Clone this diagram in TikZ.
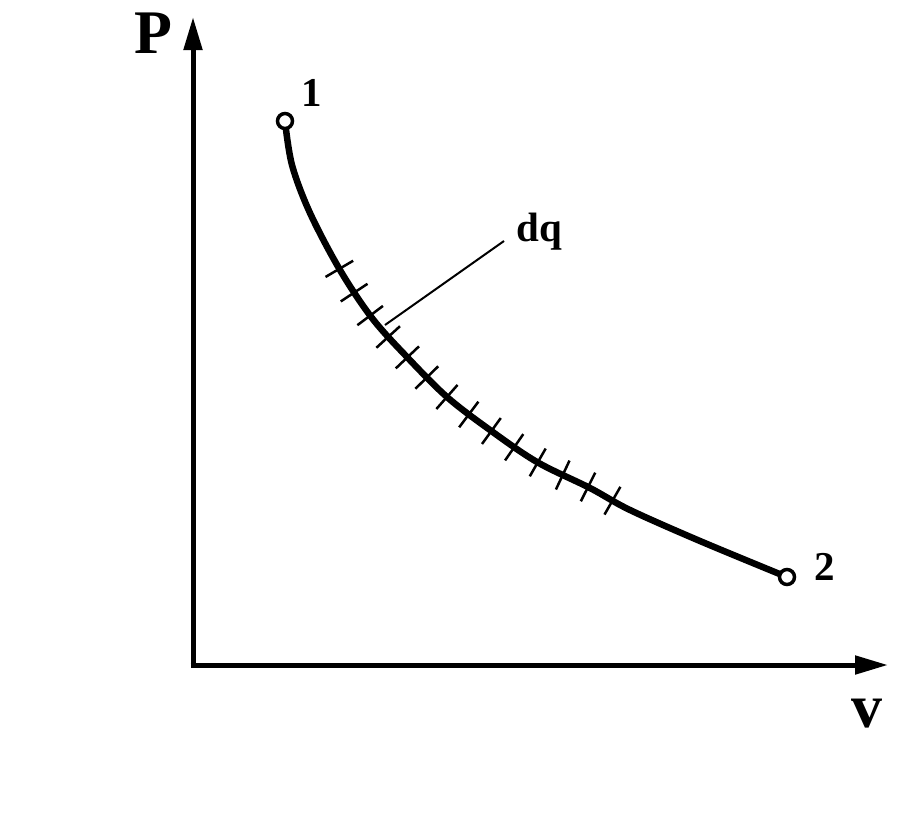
\documentclass[tikz,border=0pt]{standalone}
\usepackage{fontspec}
\setmainfont{Liberation Serif}
\usetikzlibrary{arrows.meta,decorations.markings}
\begin{document}
\begin{tikzpicture}[x=1pt,y=-1pt,
  axis/.style={line width=5pt,-{Triangle[length=33pt,width=18pt]}},
  curvestyle/.style={line width=6.5pt,line cap=round},
  endpt/.style={circle,draw,fill=white,line width=3.5pt,minimum size=15pt,inner sep=0pt},
  bigtxt/.style={inner sep=0pt,anchor=base,font=\fontsize{62}{62}\selectfont\bfseries},
  numtxt/.style={inner sep=0pt,anchor=base,font=\fontsize{41}{41}\selectfont\bfseries},
  dqtxt/.style={inner sep=0pt,anchor=base,font=\fontsize{41}{41}\selectfont\bfseries},
  tickmarks/.style={postaction={decorate},decoration={markings,
     mark=between positions 159pt and 525pt step 28pt with {\draw[line width=2.5pt,line cap=butt] (0pt,-16pt) -- (0pt,16pt);}}}
]
\useasboundingbox (0,0) rectangle (918,828);
\fill[white] (0,0) rectangle (918,828);
% axes
\coordinate (O) at (193,665);
\coordinate (Ptip) at (193,17);
\coordinate (Vtip) at (888,665);
\draw[axis] ([yshift=-2.5pt]O) -- (Ptip);
\draw[axis] ([xshift=-2.5pt]O) -- (Vtip);
\node[bigtxt] (Plab) at (153,53) {P};
\node[bigtxt] (vlab) at (867,727) {v};
% process curve
\coordinate (c1) at (285,121);
\coordinate (c2) at (787,577);
\draw[curvestyle,tickmarks] plot[smooth,tension=0.55] coordinates {
  (285,121) (292,165) (310,213) (340,270) (372,318) (407,357) (447,397)
  (490,430) (537,462) (590,488) (630,510) (700,541) (787,577)};
\node[endpt] (p1) at (c1) {};
\node[endpt] (p2) at (c2) {};
\node[numtxt] (n1) at (312,106) {1};
\node[numtxt] (n2) at (825,580) {2};
% dq label and leader
\node[dqtxt] (dq) at (539,241) {dq};
\coordinate (lead) at (385,325);
\draw[line width=2pt] (lead) -- ([xshift=-12pt]dq.base west);
\end{tikzpicture}
\end{document}
